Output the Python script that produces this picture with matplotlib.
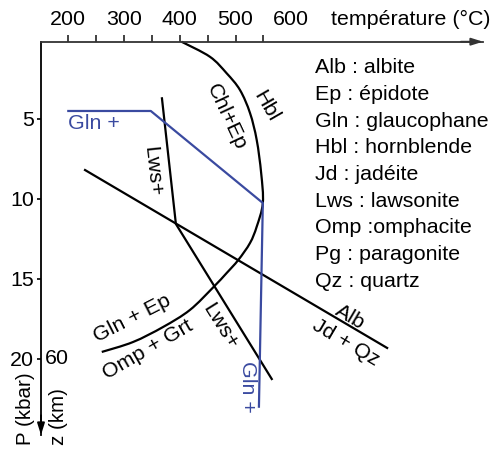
import matplotlib
matplotlib.use("Agg")
import matplotlib.pyplot as plt
from matplotlib.path import Path
from matplotlib.patches import PathPatch

plt.rcParams['font.family'] = ['Liberation Sans', 'DejaVu Sans']

# ---- data (T in °C, P in kbar) ----
hbl_T = [403, 454, 484, 508, 526, 538, 546, 549, 538, 526, 505, 484, 460, 418, 370, 316, 260]
hbl_P = [0.17, 1.11, 2.14, 3.19, 4.63, 6.31, 8.38, 10.25, 11.73, 12.75, 13.81, 14.63, 15.52, 16.94, 18.0, 18.94, 19.56]

gln_T = [200, 348, 549, 542]
gln_P = [4.5, 4.5, 10.25, 22.98]

lws_T = [368, 393, 565]
lws_P = [3.71, 11.56, 21.25]

alb_T = [230, 772]
alb_P = [8.19, 19.31]

x_major = [200, 300, 400, 500, 600]
x_minor = [250, 350, 450, 550]
y_ticks = [5, 10, 15, 20]

legend_lines = ["Alb : albite", "Ep : épidote", "Gln : glaucophane", "Hbl : hornblende",
                "Jd : jadéite", "Lws : lawsonite", "Omp :omphacite", "Pg : paragonite",
                "Qz : quartz"]

BLUE = '#3a4aa0'
FS = 15.4


def smooth_path(xs, ys):
    """Catmull-Rom through the read points, expressed as cubic Bezier segments."""
    pts = list(zip(xs, ys))
    verts = [pts[0]]
    codes = [Path.MOVETO]
    n = len(pts)
    for i in range(n - 1):
        p0 = pts[i - 1] if i > 0 else pts[i]
        p1 = pts[i]
        p2 = pts[i + 1]
        p3 = pts[i + 2] if i + 2 < n else pts[i + 1]
        c1 = (p1[0] + (p2[0] - p0[0]) / 6.0, p1[1] + (p2[1] - p0[1]) / 6.0)
        c2 = (p2[0] - (p3[0] - p1[0]) / 6.0, p2[1] - (p3[1] - p1[1]) / 6.0)
        verts += [c1, c2, p2]
        codes += [Path.CURVE4] * 3
    return Path(verts, codes)


fig = plt.figure(figsize=(4.94, 4.5), dpi=100)
ax = fig.add_axes([41/494, 1-435/450, 442/494, (435-41.7)/450])
ax.set_xlim(151, 944)
ax.set_ylim(24.75, 0.17)

for s in ['right', 'bottom']:
    ax.spines[s].set_visible(False)
ax.spines['top'].set_color('#333333')
ax.spines['top'].set_linewidth(1.3)
ax.spines['left'].set_color('black')
ax.spines['left'].set_linewidth(1.3)
ax.patch.set_alpha(0)

ax.xaxis.tick_top()
ax.set_xticks(x_major)
ax.set_xticks(x_minor, minor=True)
ax.tick_params(axis='x', which='both', direction='out', length=5, width=1.3, color='#333333',
               labelsize=FS, pad=4)
ax.xaxis.get_major_ticks()[-1].tick2line.set_visible(False)

ax.set_yticks(y_ticks)
ax.tick_params(axis='y', which='both', direction='out', length=3, width=1.2, labelsize=FS, pad=2)

# arrows at the ends of the axes
ax.annotate('', xy=(1.0, 1.0), xytext=(0.95, 1.0), xycoords='axes fraction',
            arrowprops=dict(arrowstyle='-|>,head_length=0.7,head_width=0.22', color='#333333', lw=1.3,
                            shrinkA=0, shrinkB=0), annotation_clip=False)
ax.annotate('', xy=(0.0, 0.0), xytext=(0.0, 0.05), xycoords='axes fraction',
            arrowprops=dict(arrowstyle='-|>,head_length=0.7,head_width=0.22', color='black', lw=1.3,
                            shrinkA=0, shrinkB=0), annotation_clip=False)

# curves
ax.add_patch(PathPatch(smooth_path(hbl_T, hbl_P), facecolor='none', edgecolor='black', lw=1.6,
                       clip_on=False))
ax.plot(lws_T, lws_P, color='black', lw=1.6, clip_on=False)
ax.plot(alb_T, alb_P, color='black', lw=1.6, clip_on=False)
ax.plot(gln_T, gln_P, color=BLUE, lw=1.6, clip_on=False)

# labels on the diagram
ax.text(199.5, 5.28, "Gln +", color=BLUE, fontsize=FS, ha='left', va='center')
ax.text(350.6, 8.25, "Lws+", fontsize=FS, rotation=-84, ha='center', va='center', rotation_mode='anchor')
ax.text(484.3, 4.86, "Chl+Ep", fontsize=FS, rotation=-65, ha='center', va='center', rotation_mode='anchor')
ax.text(554.7, 4.19, "Hbl", fontsize=FS, rotation=-60, ha='center', va='center', rotation_mode='anchor')
ax.text(313.6, 17.46, "Gln + Ep", fontsize=FS, rotation=27, ha='center', va='center', rotation_mode='anchor')
ax.text(343.1, 19.44, "Omp + Grt", fontsize=FS, rotation=30, ha='center', va='center', rotation_mode='anchor')
ax.text(472.3, 17.94, "Lws+", fontsize=FS, rotation=-58, ha='center', va='center', rotation_mode='anchor')
ax.text(520.8, 21.75, "Gln +", color=BLUE, fontsize=FS, rotation=-90, ha='center', va='center',
        rotation_mode='anchor')
ax.text(705.6, 17.38, "Alb", fontsize=FS, rotation=-30.5, ha='center', va='center', rotation_mode='anchor')
ax.text(698.4, 19.0, "Jd + Qz", fontsize=FS, rotation=-30.5, ha='center', va='center', rotation_mode='anchor')

# legend text
y0 = 1.81
for i, s in enumerate(legend_lines):
    ax.text(642.5, y0 + i * 1.665, s, fontsize=FS, ha='left', va='center')

# axis titles
ax.text(957, -1.19, "température (°C)", fontsize=FS, ha='right', va='center', clip_on=False)
ax.text(178.9, 20.0, "60", fontsize=FS, ha='center', va='center', clip_on=False)
ax.text(122.3, 25.4, "P (kbar)", fontsize=14.8, rotation=90, ha='center', va='bottom', clip_on=False)
ax.text(181.5, 25.4, "z (km)", fontsize=14.8, rotation=90, ha='center', va='bottom', clip_on=False)

fig.savefig("out.png", dpi=100)
